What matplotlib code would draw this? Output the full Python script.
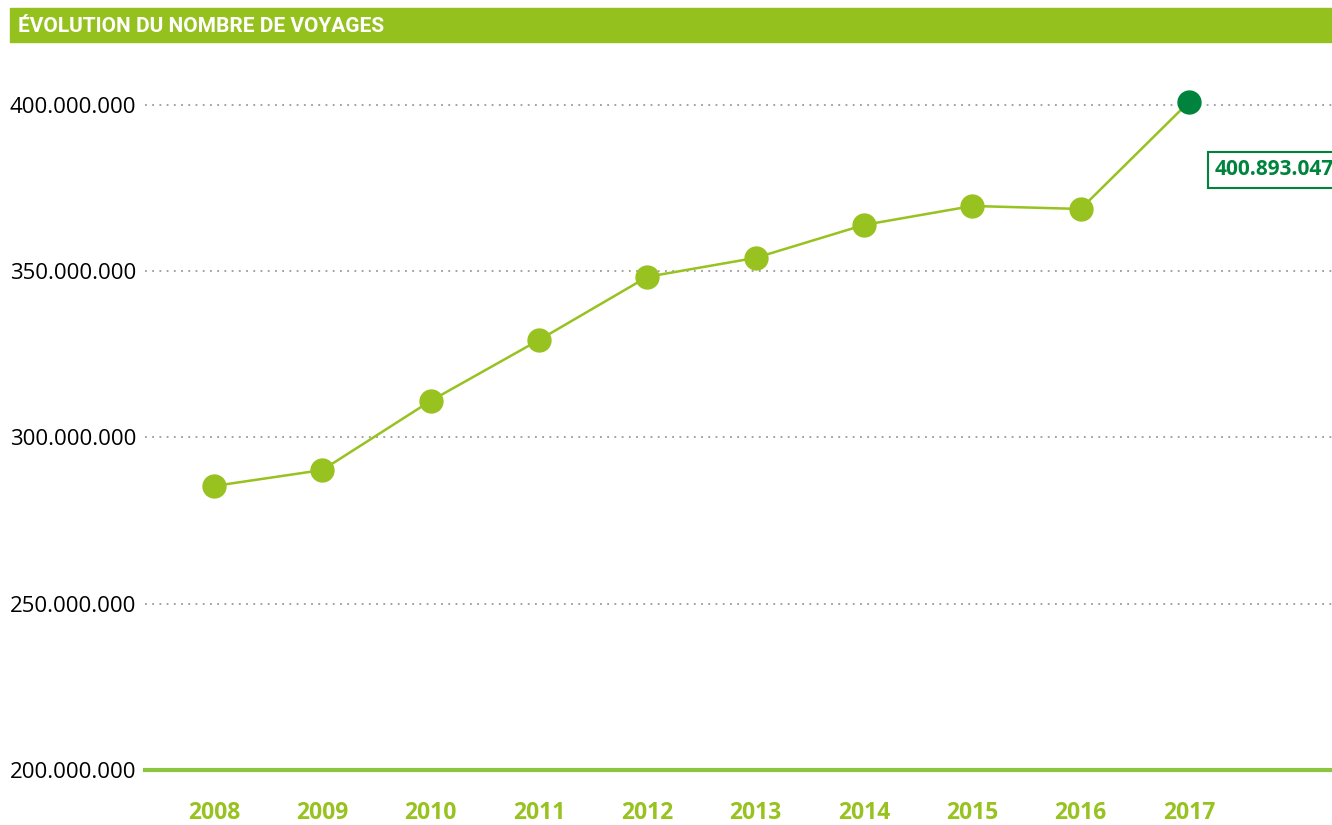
import matplotlib.pyplot as plt
from matplotlib.patches import Rectangle

# Data
years = ['2008', '2009', '2010', '2011', '2012', '2013', '2014', '2015', '2016', '2017']
voyages = [285.4e6, 290.2e6, 311.0e6, 329.3e6, 348.3e6, 354.0e6, 363.9e6, 369.6e6, 368.7e6, 400.893047e6]
yticks = [200e6, 250e6, 300e6, 350e6, 400e6]
ytick_labels = ['200.000.000', '250.000.000', '300.000.000', '350.000.000', '400.000.000']
title = 'ÉVOLUTION DU NOMBRE DE VOYAGES'
last_label = '400.893.047'

light_green = '#97C21F'
dark_green = '#00833D'

plt.rcParams['font.family'] = ['Open Sans', 'DejaVu Sans']

fig = plt.figure(figsize=(13.32, 8.25), dpi=100)
ax = fig.add_axes([145 / 1332, 55 / 825, 1 - 145 / 1332, 715 / 825])

x = list(range(len(years)))
ax.plot(x, voyages, color=light_green, lw=1.8, zorder=3)
ax.plot(x[:-1], voyages[:-1], 'o', color=light_green, ms=16.5, zorder=4)
ax.plot(x[-1], voyages[-1], 'o', color=dark_green, ms=16.5, zorder=5)

ax.set_xlim(-0.637, 10.32)
ax.set_ylim(200e6, 415e6)

# dotted grid lines
for v in yticks[1:]:
    ax.axhline(v, color='#9a9a9a', lw=1.3, ls=(0, (1, 3)), zorder=1)
ax.axhline(200e6, color='#8BC43F', lw=3, zorder=2, clip_on=False)

ax.set_yticks(yticks)
ax.set_yticklabels(ytick_labels, fontsize=16, color='black')
ax.set_xticks(x)
ax.set_xticklabels(years, fontsize=16.5, fontweight='bold', color=light_green)
ax.tick_params(axis='both', length=0)
ax.tick_params(axis='y', pad=0)
ax.tick_params(axis='x', pad=22)
for lab in ax.get_yticklabels():
    lab.set_horizontalalignment('left')
    lab.set_x(-135 / 1187)
for s in ax.spines.values():
    s.set_visible(False)

ax.annotate(last_label, xy=(x[-1], voyages[-1]), xytext=(18.7, -49),
            textcoords='offset points', ha='left', va='center',
            fontsize=15, fontweight='bold', color=dark_green,
            bbox=dict(boxstyle='square,pad=0.35', fc='white', ec=dark_green, lw=1.5),
            annotation_clip=False)

# title bar
fig.patches.append(Rectangle((10 / 1332, 1 - 42 / 825), 1 - 10 / 1332, 34 / 825,
                             transform=fig.transFigure, color='#95C11F', zorder=0))
fig.text(18 / 1332, 1 - 26 / 825, title, color='white', fontsize=15, fontweight='bold',
         va='center', ha='left', family=['Roboto', 'DejaVu Sans'])

fig.savefig('out.png', dpi=100)
